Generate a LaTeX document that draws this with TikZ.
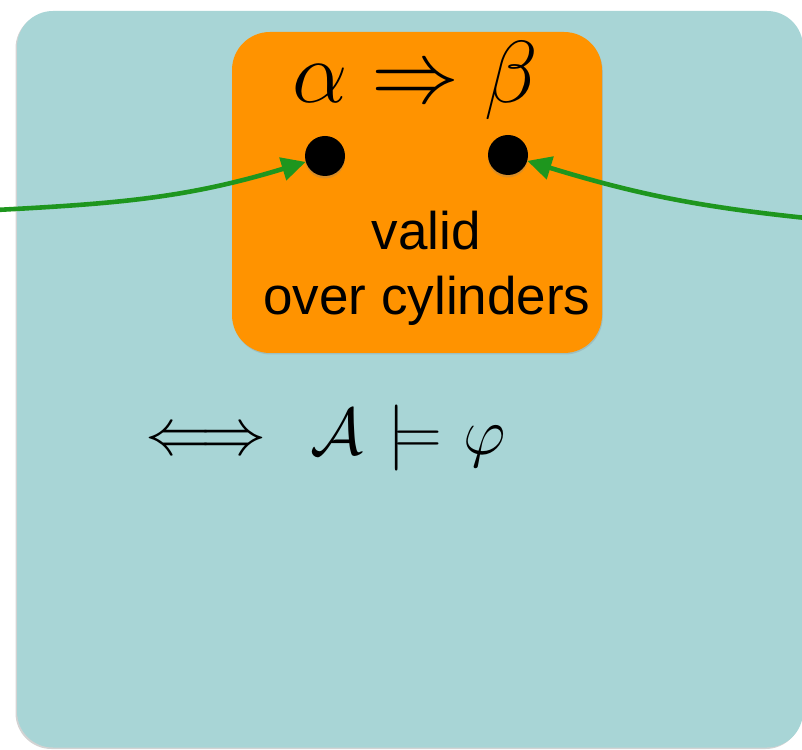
\documentclass[tikz,border=0pt]{standalone}
\usepackage{fix-cm}
\usepackage{fontspec}
\setmainfont{Liberation Sans}
\usepackage{amssymb}
\usepackage{tikz}
\usetikzlibrary{arrows.meta,shadows}
\definecolor{PanelTeal}{HTML}{A8D5D6}
\definecolor{BoxOrange}{HTML}{FF9300}
\definecolor{ArrowGreen}{HTML}{1E961E}
\tikzset{
  panel/.style={fill=PanelTeal,rounded corners=36pt,
    drop shadow={shadow xshift=-1.5pt,shadow yshift=-1.5pt,opacity=.35}},
  claimbox/.style={rectangle,fill=BoxOrange,rounded corners=38pt,
    minimum width=370pt,minimum height=321pt,inner sep=0pt,
    drop shadow={shadow xshift=0.8pt,shadow yshift=-1.5pt,opacity=.25}},
  dotnode/.style={circle,fill=black,minimum size=40pt,inner sep=0pt,
    drop shadow={shadow xshift=0pt,shadow yshift=-2.5pt,opacity=.3}},
  flow/.style={ArrowGreen,line width=4.6pt,-{Triangle[length=24pt,width=23pt]}},
  caption/.style={inner sep=0pt,anchor=base,font=\fontsize{53}{64}\selectfont}
}

\begin{document}
\begin{tikzpicture}[x=1pt,y=1pt]
  \useasboundingbox (0,0) rectangle (802,749);

  % Background panel
  \path[panel] (17,1.5) rectangle (803,738);

  % Orange claim box with its two points
  \node[claimbox] (claim) at (417,556.5) {};
  \node[inner sep=0pt,anchor=base,font=\fontsize{88}{100}\selectfont]
    (impl) at (415,646) {$\alpha\Rightarrow\beta$};
  \node[dotnode] (alpha) at (325,593) {};
  \node[dotnode] (beta) at (508,594) {};
  \node[caption] (valid) at (426,499) {valid};
  \node[caption] (over) at (427,434) {over cylinders};

  % Equivalence below the box
  \node[inner sep=0pt,anchor=base west,font=\fontsize{66}{78}\selectfont]
    (equiv) at (127,294)
    {$\iff\mkern2mu \mathcal{A}\mkern1.5mu\models\mkern1mu\varphi$};

  % Incoming arrows
  \coordinate (inL) at (-4,539);
  \coordinate (inR) at (806,531);
  \draw[flow] (inL) to[out=3,in=197] (alpha);
  \draw[flow] (inR) to[out=174,in=343] (beta);
\end{tikzpicture}
\end{document}
